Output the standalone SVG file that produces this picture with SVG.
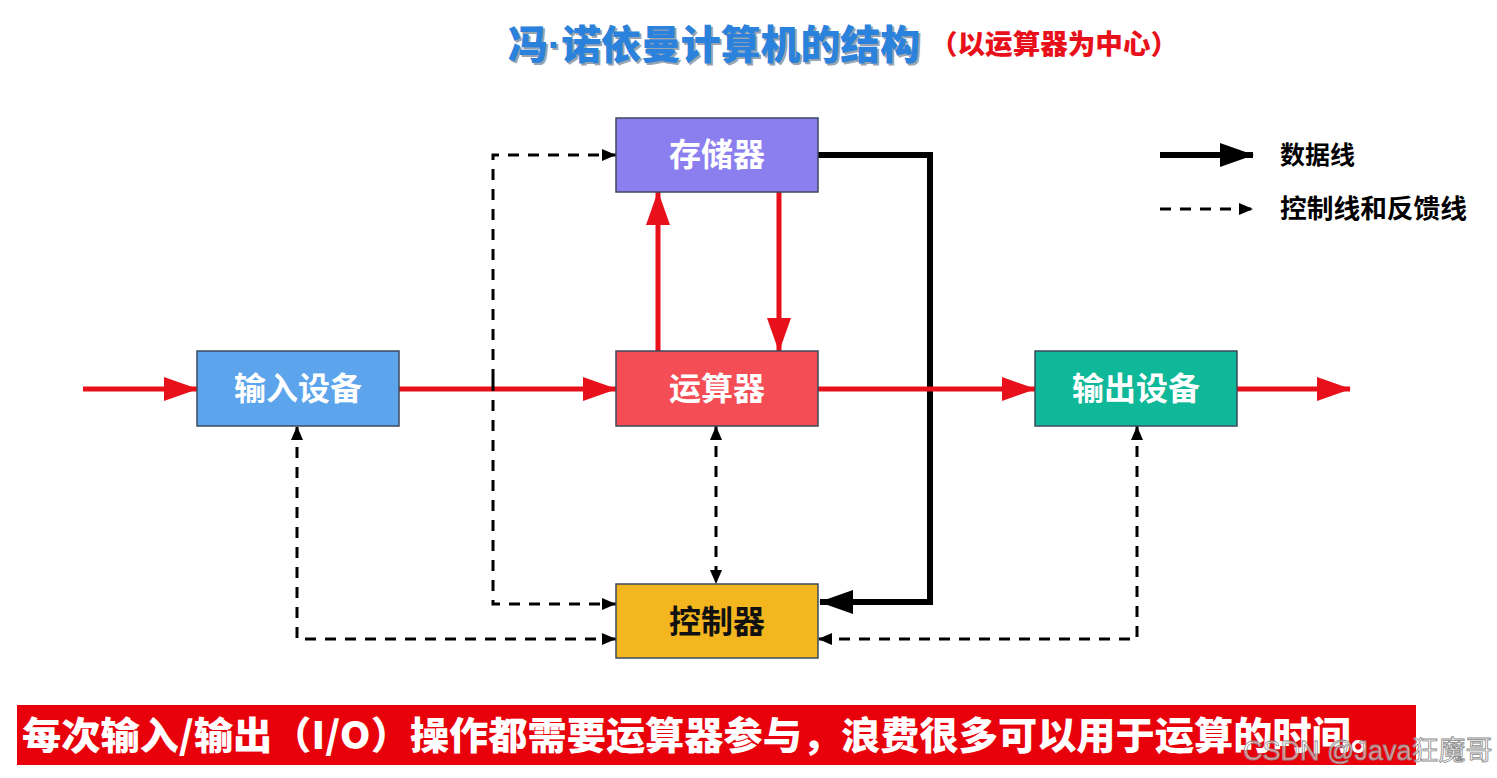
<svg xmlns="http://www.w3.org/2000/svg" width="1497" height="778" viewBox="0 0 1497 778">
  <style>
    .cjk { font-family: "Noto Sans CJK SC", "Liberation Sans", sans-serif; font-weight: 700; }
    .heavy { font-weight: 900; }
    .box { stroke: #3c4a5e; stroke-width: 1.5; }
    .boxtxt { font-size: 32px; text-anchor: middle; fill: #ffffff; }
    .red { stroke: #e8101a; stroke-width: 5; fill: none; }
    .data { stroke: #000000; stroke-width: 6; fill: none; }
    .ctrl { stroke: #000000; stroke-width: 3; stroke-dasharray: 11 9; fill: none; }
  </style>
  <defs>
    <marker id="redArrow" markerUnits="userSpaceOnUse" markerWidth="34" markerHeight="24" refX="33" refY="12" orient="auto">
      <path d="M0,0 L34,12 L0,24 z" fill="#e8101a"/>
    </marker>
    <marker id="blackArrow" markerUnits="userSpaceOnUse" markerWidth="34" markerHeight="24" refX="33" refY="12" orient="auto">
      <path d="M0,0 L34,12 L0,24 z" fill="#000000"/>
    </marker>
    <marker id="dashArrow" markerUnits="userSpaceOnUse" markerWidth="14" markerHeight="12" refX="14" refY="6" orient="auto">
      <path d="M0,0 L14,6 L0,12 z" fill="#000000"/>
    </marker>
    <marker id="dashArrowStart" markerUnits="userSpaceOnUse" markerWidth="14" markerHeight="12" refX="0" refY="6" orient="auto">
      <path d="M14,0 L0,6 L14,12 z" fill="#000000"/>
    </marker>
  </defs>

  <rect width="1497" height="778" fill="#ffffff"/>

  <g id="title">
    <text class="cjk heavy" x="510" y="61" font-size="40" fill="#9aa4b0" textLength="412" lengthAdjust="spacingAndGlyphs">冯<tspan font-family="Liberation Sans, sans-serif">·</tspan>诺依曼计算机的结构</text>
    <text class="cjk heavy" x="508" y="59" font-size="40" fill="#2a82dc" textLength="412" lengthAdjust="spacingAndGlyphs">冯<tspan font-family="Liberation Sans, sans-serif">·</tspan>诺依曼计算机的结构</text>
    <text class="cjk heavy" x="930" y="54" font-size="27" fill="#e8101a" textLength="248" lengthAdjust="spacingAndGlyphs">（以运算器为中心）</text>
  </g>

  <g id="legend">
    <line x1="1160" y1="155" x2="1253" y2="155" class="data" stroke-width="7" marker-end="url(#blackArrow)"/>
    <text class="cjk" x="1280" y="164" font-size="25" fill="#000000">数据线</text>
    <line x1="1160" y1="209" x2="1253" y2="209" class="ctrl" marker-end="url(#dashArrow)"/>
    <text class="cjk" x="1280" y="218" font-size="26" fill="#000000" textLength="187" lengthAdjust="spacingAndGlyphs">控制线和反馈线</text>
  </g>

  <g id="connectors">
    <path class="data" d="M818,155 H930 V602 H820" marker-end="url(#blackArrow)"/>
    <line class="red" x1="83" y1="389" x2="197" y2="389" marker-end="url(#redArrow)"/>
    <line class="red" x1="399" y1="389" x2="616" y2="389" marker-end="url(#redArrow)"/>
    <line class="red" x1="818" y1="389" x2="1035" y2="389" marker-end="url(#redArrow)"/>
    <line class="red" x1="1237" y1="389" x2="1350" y2="389" marker-end="url(#redArrow)"/>
    <line class="red" x1="658" y1="351" x2="658" y2="192" marker-end="url(#redArrow)"/>
    <line class="red" x1="779" y1="192" x2="779" y2="351" marker-end="url(#redArrow)"/>
    <path class="ctrl" d="M493,380 V155 H616" marker-end="url(#dashArrow)"/>
    <path class="ctrl" d="M493,380 V604 H616" marker-end="url(#dashArrow)"/>
    <path class="ctrl" d="M616,639 H297 V426" marker-start="url(#dashArrowStart)" marker-end="url(#dashArrow)"/>
    <path class="ctrl" d="M1137,426 V639 H818" marker-start="url(#dashArrowStart)" marker-end="url(#dashArrow)"/>
    <line class="ctrl" x1="716" y1="426" x2="716" y2="584" marker-start="url(#dashArrowStart)" marker-end="url(#dashArrow)"/>
  </g>

  <g id="storage">
    <rect class="box" x="616" y="118" width="202" height="74" fill="#8b7ff0"/>
    <text class="cjk boxtxt" x="717" y="166">存储器</text>
  </g>
  <g id="alu">
    <rect class="box" x="616" y="351" width="202" height="75" fill="#f44d55"/>
    <text class="cjk boxtxt" x="717" y="400">运算器</text>
  </g>
  <g id="controller">
    <rect class="box" x="616" y="584" width="202" height="74" fill="#f3b61f" stroke="#7a5a10"/>
    <text class="cjk boxtxt" x="717" y="633" style="fill:#111111">控制器</text>
  </g>
  <g id="input">
    <rect class="box" x="197" y="351" width="202" height="75" fill="#5ca4ec"/>
    <text class="cjk boxtxt" x="298" y="400">输入设备</text>
  </g>
  <g id="output">
    <rect class="box" x="1035" y="351" width="202" height="75" fill="#0fb898"/>
    <text class="cjk boxtxt" x="1136" y="400">输出设备</text>
  </g>

  <g id="banner">
    <rect x="17" y="705" width="1399" height="60" fill="#e8000b"/>
    <text class="cjk heavy" x="22" y="749" font-size="38" fill="#ffffff" textLength="1368" lengthAdjust="spacingAndGlyphs">每次输入/输出（I/O）操作都需要运算器参与，浪费很多可以用于运算的时间。</text>
  </g>

  <g id="watermark">
    <text x="1243" y="760" font-family="Liberation Sans, Noto Sans CJK SC, sans-serif" font-size="27" fill="#ffffff" fill-opacity="0.6" stroke="#8a8a8a" stroke-width="0.8">CSDN @Java狂魔哥</text>
  </g>
</svg>
